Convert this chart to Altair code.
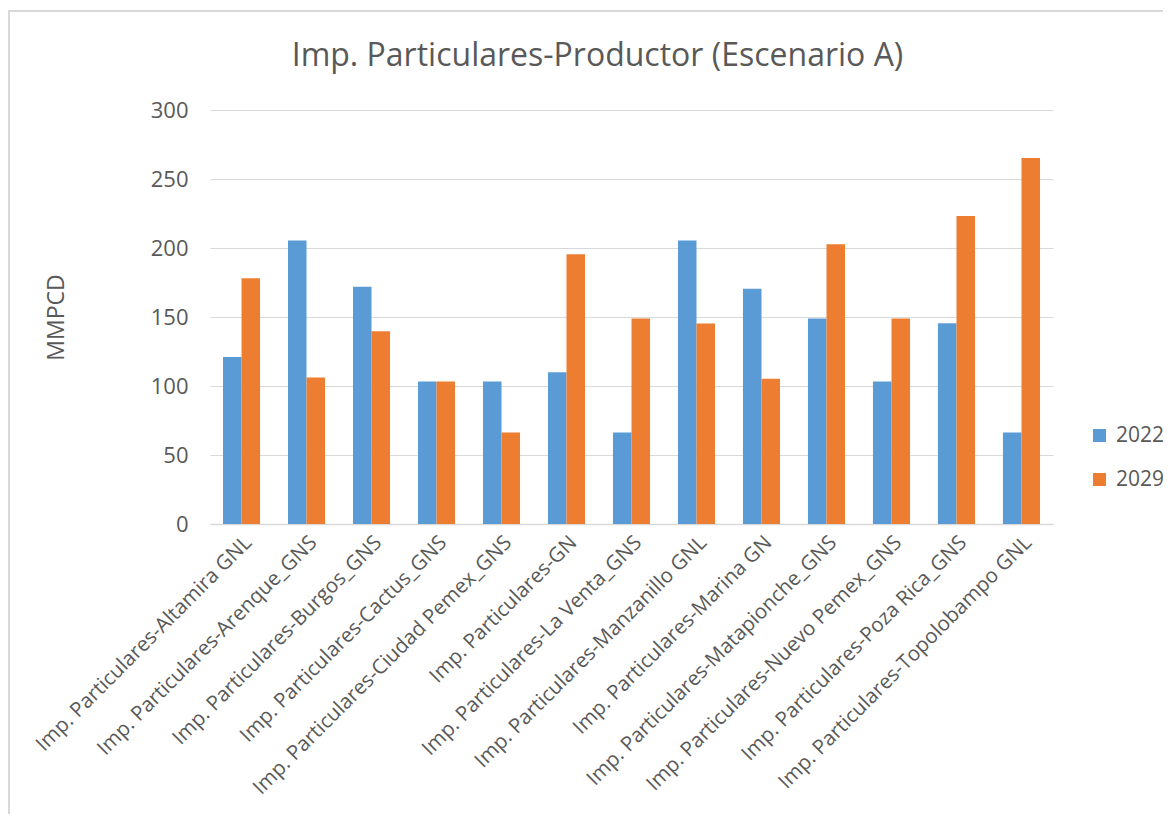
import altair as alt
import pandas as pd

categories = [
    "Imp. Particulares-Altamira GNL",
    "Imp. Particulares-Arenque_GNS",
    "Imp. Particulares-Burgos_GNS",
    "Imp. Particulares-Cactus_GNS",
    "Imp. Particulares-Ciudad Pemex_GNS",
    "Imp. Particulares-GN",
    "Imp. Particulares-La Venta_GNS",
    "Imp. Particulares-Manzanillo GNL",
    "Imp. Particulares-Marina GN",
    "Imp. Particulares-Matapionche_GNS",
    "Imp. Particulares-Nuevo Pemex_GNS",
    "Imp. Particulares-Poza Rica_GNS",
    "Imp. Particulares-Topolobampo GNL",
]
years = ["2022", "2029"]
values_2022 = [121, 205.5, 172, 103.3, 103.3, 110, 66.3, 205.5, 170.5, 149, 103.3, 145.5, 66.3]
values_2029 = [178, 106.2, 139.6, 103.3, 66.3, 195.5, 149, 145.2, 105.2, 202.8, 149, 223.2, 265.2]

rows = []
for c, a, b in zip(categories, values_2022, values_2029):
    rows.append({"cat": c, "year": years[0], "value": a})
    rows.append({"cat": c, "year": years[1], "value": b})
df = pd.DataFrame(rows)

FONT = "Open Sans"
GRAY = "#595959"
FRAME = "#d9d9d9"

bars = (
    alt.Chart(df)
    .mark_bar()
    .encode(
        x=alt.X(
            "cat:N",
            sort=categories,
            scale=alt.Scale(paddingInner=0.43, paddingOuter=0.2),
            axis=alt.Axis(
                title=None,
                labelAngle=-45,
                labelFontSize=20.5,
                labelColor=GRAY,
                labelFont=FONT,
                labelPadding=8,
                labelLimit=0,
                labelOverlap=False,
                ticks=False,
                domain=True,
                domainColor="#d9d9d9",
                domainWidth=1.5,
                grid=False,
            ),
        ),
        xOffset=alt.XOffset("year:N", sort=years),
        y=alt.Y(
            "value:Q",
            scale=alt.Scale(domain=[0, 300], nice=False),
            axis=alt.Axis(
                title="MMPCD",
                values=[0, 50, 100, 150, 200, 250, 300],
                labelFontSize=22,
                labelColor=GRAY,
                labelFont=FONT,
                labelPadding=22,
                ticks=False,
                domain=False,
                gridColor="#d9d9d9",
                gridWidth=1.2,
                titleFontSize=23,
                titleFontWeight="normal",
                titleColor=GRAY,
                titleFont=FONT,
                titleX=-154,
                titleY=207,
                titleAlign="center",
                titleBaseline="middle",
            ),
        ),
        color=alt.Color(
            "year:N",
            sort=years,
            scale=alt.Scale(domain=years, range=["#5B9BD5", "#ED7D31"]),
            legend=alt.Legend(
                title=None,
                orient="none",
                legendX=879,
                legendY=315,
                symbolType="square",
                symbolSize=169,
                symbolStrokeWidth=0,
                labelFontSize=21,
                labelColor=GRAY,
                labelFont=FONT,
                labelOffset=6,
                rowPadding=22,
                padding=0,
            ),
        ),
    )
)

# decorative chart-area frame (left and top edges, as in the reference)
frame_df = pd.DataFrame({"k": [0]})
frame_left = alt.Chart(frame_df).mark_rule(color=FRAME, strokeWidth=2).encode(
    x=alt.value(-201), y=alt.value(-99), y2=alt.value(720)
)
frame_top = alt.Chart(frame_df).mark_rule(color=FRAME, strokeWidth=2).encode(
    x=alt.value(-202), x2=alt.value(960), y=alt.value(-99)
)

chart = (
    alt.layer(bars, frame_left, frame_top)
    .properties(
        width=843,
        height=414,
        background="white",
        title=alt.TitleParams(
            "Imp. Particulares-Productor (Escenario A)",
            fontSize=32,
            fontWeight="normal",
            color=GRAY,
            font=FONT,
            anchor="middle",
            dx=-34,
            dy=89,
            offset=26,
        ),
        autosize=alt.AutoSizeParams(type="none"),
        padding={"left": 202, "top": 102, "right": 110, "bottom": 290},
    )
    .configure_view(strokeWidth=0, stroke="transparent")
)

chart.save("out.html", embed_options={"renderer": "svg", "actions": False})
